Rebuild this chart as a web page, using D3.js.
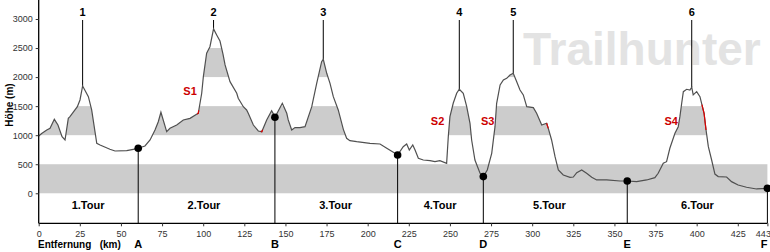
<!DOCTYPE html>
<html><head><meta charset="utf-8">
<script src="https://cdn.jsdelivr.net/npm/d3@7"></script>
<style>body{margin:0;background:#fff;} svg{display:block;font-family:"Liberation Sans",Arial,sans-serif;}</style>
</head><body>
<svg id="c" width="770" height="252"></svg>
<script>
// Elevation profile: distance (km) and elevation (m)
const profileKm = [0,1.8,4.9,6.9,9.5,11.7,14.2,16,18,19,23.5,25.1,26.7,30.2,32.2,35.3,37.3,43.3,46.4,53.5,57.5,60.5,64.6,67.7,70.7,72.7,74.3,77.8,79.8,83.9,87.9,92,96,97,99.1,100.1,102.1,104.1,106.3,108.2,110.2,112,113.3,116.3,120.4,121.3,124.4,126.4,127.4,130.5,133.5,135.6,138.6,141.6,142.4,143.6,148.1,150.8,151.7,153.8,155.8,158.8,161.9,166,169,172,173,175.1,177.1,179.1,182.1,185.2,187.2,189.2,193.3,201.4,207.5,211.6,215.6,218.2,221.6,223.7,225.3,227.4,228.8,230.8,233.8,237.9,240.9,243.9,248,249,250,252,254.1,255.7,258.1,260.2,262.2,263.2,265.2,268.3,270.3,272.7,275.4,277.4,278.4,280.5,282.5,284.5,286.5,288.5,290.6,292.6,294.6,296.7,300.7,302.7,305.8,308.8,309.8,311.8,313.9,315.9,318.9,323,325,327.1,330.1,333.1,336.2,339.2,345.3,353.4,357.8,363.5,369.6,374.6,376.6,379.7,381.7,383.7,386.8,388.8,389.8,390.9,391.9,393.9,395.9,397,397.9,400,402,403,404.5,405.7,407.1,409.1,411.1,413.1,418.2,421.2,425.2,430.3,436.4,443];
const profileElev = [985,1030,1090,1118,1273,1175,974,917,1290,1318,1490,1606,1847,1663,1434,860,831,757,728,733,757,775,814,917,1090,1232,1394,1060,1118,1175,1261,1290,1360,1377,1721,2007,2410,2523,2830,2725,2620,2400,2209,1921,1721,1635,1490,1434,1377,1175,1072,1060,1262,1420,1380,1308,1549,1377,1262,1090,1130,1130,1146,1490,1893,2265,2306,2065,1893,1663,1434,1100,946,905,888,860,848,775,706,659,802,848,745,831,745,602,573,561,544,561,516,974,1318,1549,1721,1790,1721,1490,1205,917,573,344,287,401,688,1146,1549,1864,1950,1979,2036,2065,1921,1778,1693,1490,1475,1377,1175,1205,1118,917,630,401,315,275,280,355,401,344,275,229,229,211,211,200,229,269,344,516,544,775,1033,1146,1318,1549,1749,1790,1778,1825,1693,1749,1663,1549,1377,1090,802,573,330,287,280,200,143,103,74,85];

// Waypoints
const wpNames = ["A","B","C","D","E","F"];
const wpKm = [60.5,143.6,218.2,270.3,357.8,443];
const wpElev = [775,1308,659,287,211,85];

// Summits
const peakNames = ["1","2","3","4","5","6"];
const peakKm = [26.7,106.3,173,255.7,288.5,397];
const peakElev = [1847,2830,2306,1790,2065,1825];

// Tours
const tourNames = ["1.Tour","2.Tour","3.Tour","4.Tour","5.Tour","6.Tour"];
const tourKm = [30,100.5,180.5,244,310.5,400.5];

// Difficult sections
const sNames = ["S1","S2","S3","S4"];
const sKm = [92,242.5,273,384.5];
const sElev = [1700,1180,1180,1180];
const redRanges = [[96.3,97.3],[135.1,136.1],[308.8,309.8],[403.2,405.7]];

const xTicks = [0,25,50,75,100,125,150,175,200,225,250,275,300,325,350,375,400,425,443];
const yTicks = [0,500,1000,1500,2000,2500,3000];
const bands = [[1000,1500],[2000,2500]];

const svg = d3.select("#c");
const x = d3.scaleLinear().domain([0,443]).range([38.7,767.4]);
const y = d3.scaleLinear().domain([-517,3327]).range([223.3,0]);
const data = profileKm.map((k,i)=>({k, e:profileElev[i]}));

// watermark
svg.append("text").attr("x",523).attr("y",65).attr("font-size",46).attr("font-weight","bold")
  .attr("fill","#e3e3e3").text("Trailhunter");

// 0-500 band full width
svg.append("rect").attr("x",x(0)).attr("width",x(443)-x(0)).attr("y",y(500)).attr("height",y(0)-y(500)).attr("fill","#cccccc");

// clipped bands
const area = d3.area().x(d=>x(d.k)).y0(y(0)).y1(d=>y(d.e));
svg.append("clipPath").attr("id","under").append("path").datum(data).attr("d",area);
const bg = svg.append("g").attr("clip-path","url(#under)");
bands.forEach(b=>{
  bg.append("rect").attr("x",x(0)).attr("width",x(443)-x(0)).attr("y",y(b[1])).attr("height",y(b[0])-y(b[1])).attr("fill","#cccccc");
});

// peak lines
peakKm.forEach((k,i)=>{
  svg.append("line").attr("x1",x(k)).attr("x2",x(k)).attr("y1",20).attr("y2",y(peakElev[i])).attr("stroke","#000").attr("stroke-width",1);
  svg.append("text").attr("x",x(k)).attr("y",16).attr("text-anchor","middle").attr("font-size",11).attr("font-weight","bold").text(peakNames[i]);
});

// profile line
const line = d3.line().x(d=>x(d.k)).y(d=>y(d.e));
svg.append("path").datum(data).attr("d",line).attr("fill","none").attr("stroke","#505050").attr("stroke-width",1.2);

// red sections
const interp = k=>{
  for(let i=1;i<profileKm.length;i++){ if(k<=profileKm[i]){const t=(k-profileKm[i-1])/(profileKm[i]-profileKm[i-1]); return profileElev[i-1]+t*(profileElev[i]-profileElev[i-1]);} }
  return profileElev[profileElev.length-1];
};
redRanges.forEach(r=>{
  const pts=[{k:r[0],e:interp(r[0])}];
  profileKm.forEach((k,i)=>{ if(k>r[0]&&k<r[1]) pts.push({k,e:profileElev[i]}); });
  pts.push({k:r[1],e:interp(r[1])});
  svg.append("path").datum(pts).attr("d",line).attr("fill","none").attr("stroke","#dd0000").attr("stroke-width",1.2);
});

// waypoints
wpKm.forEach((k,i)=>{
  svg.append("line").attr("x1",x(k)).attr("x2",x(k)).attr("y1",y(wpElev[i])).attr("y2",y(-517)).attr("stroke","#000").attr("stroke-width",1);
  svg.append("circle").attr("cx",x(k)).attr("cy",y(wpElev[i])).attr("r",3.8).attr("fill","#000");
  svg.append("text").attr("x",Math.min(x(k),764)).attr("y",248).attr("text-anchor","middle").attr("font-size",11).attr("font-weight","bold").text(wpNames[i]);
});

// S labels
sKm.forEach((k,i)=>{
  svg.append("text").attr("x",x(k)).attr("y",y(sElev[i])).attr("text-anchor","middle").attr("font-size",11).attr("font-weight","bold").attr("fill","#cc0000").text(sNames[i]);
});

// tours
tourKm.forEach((k,i)=>{
  svg.append("text").attr("x",x(k)).attr("y",209).attr("text-anchor","middle").attr("font-size",11).attr("font-weight","bold").text(tourNames[i]);
});

// axes
const xa = svg.append("g").attr("transform",`translate(0,${y(-517)})`)
  .call(d3.axisBottom(x).tickValues(xTicks).tickSize(3).tickFormat(d3.format("d")));
const ya = svg.append("g").attr("transform",`translate(${x(0)},0)`)
  .call(d3.axisLeft(y).tickValues(yTicks).tickSize(3).tickFormat(d3.format("d")));
[xa,ya].forEach(a=>{
  a.select(".domain").attr("stroke","#000").attr("stroke-width",1.3);
  a.selectAll(".tick line").attr("stroke","#333");
  a.selectAll("text").attr("font-size",9).attr("fill","#333").attr("font-family","Liberation Sans, Arial, sans-serif");
});
ya.select(".domain").attr("d",`M0,0V${y(-517)}`);
xa.select(".domain").attr("d",`M${x(0)},0H${x(443)}`);
xa.selectAll("text").attr("dy","0.9em");
xa.selectAll(".tick").filter(d=>d===443).select("text").attr("text-anchor","end").attr("dx",3);

svg.append("text").attr("x",38).attr("y",248).attr("font-size",10).attr("font-weight","bold").attr("xml:space","preserve").text("Entfernung   (km)");
svg.append("text").attr("transform","translate(13,105) rotate(-90)").attr("text-anchor","middle").attr("font-size",10).attr("font-weight","bold").text("Höhe (m)");
</script>
</body></html>
